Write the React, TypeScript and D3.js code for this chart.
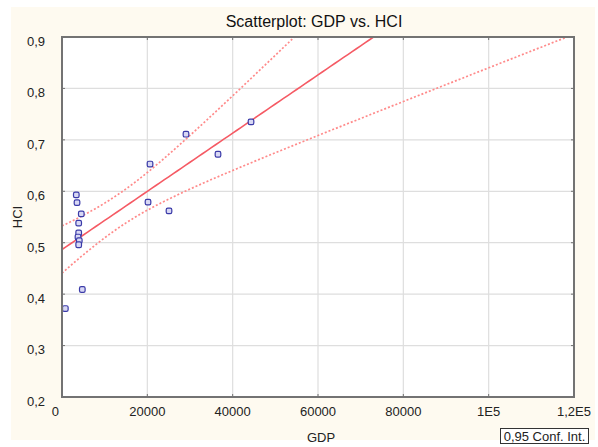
import React, { useRef, useEffect } from "react";
import * as d3 from "d3";

const gdp = [780, 4760, 3350, 3520, 4520, 3910, 3910, 3750, 4050, 3910, 20160, 20630, 25080, 29060, 36560, 44300];
const hci = [0.372, 0.409, 0.593, 0.578, 0.556, 0.538, 0.519, 0.511, 0.504, 0.496, 0.579, 0.653, 0.562, 0.711, 0.672, 0.735];

const xTicks = [0, 20000, 40000, 60000, 80000, 100000, 120000];
const xTickLabels = ["0", "20000", "40000", "60000", "80000", "1E5", "1,2E5"];
const yTicks = [0.2, 0.3, 0.4, 0.5, 0.6, 0.7, 0.8, 0.9];

const App = () => {
  const svgRef = useRef<SVGSVGElement>(null);

  useEffect(() => {
    const width = 598,
      height = 447;
    const margin = { top: 37, right: 24, bottom: 50, left: 62 };
    const innerW = width - margin.left - margin.right;
    const innerH = height - margin.top - margin.bottom;

    const root = d3.select(svgRef.current);
    root.selectAll("*").remove();
    root.attr("width", width).attr("height", height).style("font-family", "'Liberation Sans', Arial, sans-serif");

    // cream panel background
    root.append("rect").attr("x", 11).attr("y", 7).attr("width", 584).attr("height", 433).attr("fill", "#fefaf0");

    const x = d3.scaleLinear().domain([0, 120000]).range([0, innerW]);
    const y = d3.scaleLinear().domain([0.2, 0.9]).range([innerH, 0]);

    const svg = root.append("g").attr("transform", `translate(${margin.left},${margin.top})`);

    svg.append("rect").attr("width", innerW).attr("height", innerH).attr("fill", "#ffffff");

    // grid
    svg
      .selectAll(".vgrid")
      .data(xTicks.slice(1, -1))
      .enter()
      .append("line")
      .attr("x1", (d) => x(d))
      .attr("x2", (d) => x(d))
      .attr("y1", 0)
      .attr("y2", innerH)
      .attr("stroke", "#dedede")
      .attr("stroke-width", 1.2);
    svg
      .selectAll(".hgrid")
      .data(yTicks.slice(1, -1))
      .enter()
      .append("line")
      .attr("x1", 0)
      .attr("x2", innerW)
      .attr("y1", (d) => y(d))
      .attr("y2", (d) => y(d))
      .attr("stroke", "#dedede")
      .attr("stroke-width", 1.2);

    // linear regression with 95% confidence band
    const n = gdp.length;
    const mx = d3.mean(gdp)!;
    const my = d3.mean(hci)!;
    let sxx = 0,
      sxy = 0;
    gdp.forEach((v, i) => {
      sxx += (v - mx) * (v - mx);
      sxy += (v - mx) * (hci[i] - my);
    });
    const b = sxy / sxx;
    const a = my - b * mx;
    let sse = 0;
    gdp.forEach((v, i) => {
      const r = hci[i] - (a + b * v);
      sse += r * r;
    });
    const s = Math.sqrt(sse / (n - 2));
    const t = 2.1448;

    const xs = d3.range(0, 120001, 1000);
    const fit = (v: number) => a + b * v;
    const half = (v: number) => t * s * Math.sqrt(1 / n + ((v - mx) * (v - mx)) / sxx);

    svg.append("clipPath").attr("id", "plotclip").append("rect").attr("width", innerW).attr("height", innerH);

    const line = d3
      .line<number>()
      .x((d) => x(d))
      .y((d) => y(d));
    const lines = svg.append("g").attr("clip-path", "url(#plotclip)");

    lines
      .append("path")
      .attr("d", line.y((d) => y(fit(d) + half(d)))(xs))
      .attr("fill", "none")
      .attr("stroke", "#ff8a8a")
      .attr("stroke-width", 1.7)
      .attr("stroke-dasharray", "2,2");
    lines
      .append("path")
      .attr("d", line.y((d) => y(fit(d) - half(d)))(xs))
      .attr("fill", "none")
      .attr("stroke", "#ff8a8a")
      .attr("stroke-width", 1.7)
      .attr("stroke-dasharray", "2,2");
    lines
      .append("path")
      .attr("d", line.y((d) => y(fit(d)))(xs))
      .attr("fill", "none")
      .attr("stroke", "#f55a64")
      .attr("stroke-width", 1.6);

    // points
    svg
      .selectAll(".pt")
      .data(gdp)
      .enter()
      .append("rect")
      .attr("x", (d) => x(d) - 2.8)
      .attr("y", (d, i) => y(hci[i]) - 2.8)
      .attr("width", 5.6)
      .attr("height", 5.6)
      .attr("rx", 1.6)
      .attr("fill", "#d8d8f4")
      .attr("stroke", "#3a3aa8")
      .attr("stroke-width", 1.2);

    // frame
    svg
      .append("rect")
      .attr("width", innerW)
      .attr("height", innerH)
      .attr("fill", "none")
      .attr("stroke", "#737373")
      .attr("stroke-width", 2);

    // tick marks
    svg
      .selectAll(".xt")
      .data(xTicks)
      .enter()
      .append("line")
      .attr("x1", (d) => x(d))
      .attr("x2", (d) => x(d))
      .attr("y1", innerH - 3)
      .attr("y2", innerH)
      .attr("stroke", "#737373");
    svg
      .selectAll(".xt2")
      .data(xTicks)
      .enter()
      .append("line")
      .attr("x1", (d) => x(d))
      .attr("x2", (d) => x(d))
      .attr("y1", 0)
      .attr("y2", 3)
      .attr("stroke", "#737373");
    svg
      .selectAll(".yt")
      .data(yTicks)
      .enter()
      .append("line")
      .attr("x1", 0)
      .attr("x2", 3)
      .attr("y1", (d) => y(d))
      .attr("y2", (d) => y(d))
      .attr("stroke", "#737373");
    svg
      .selectAll(".yt2")
      .data(yTicks)
      .enter()
      .append("line")
      .attr("x1", innerW - 3)
      .attr("x2", innerW)
      .attr("y1", (d) => y(d))
      .attr("y2", (d) => y(d))
      .attr("stroke", "#737373");

    // tick labels
    svg
      .selectAll(".xl")
      .data(xTicks)
      .enter()
      .append("text")
      .attr("x", (d) => x(d))
      .attr("y", innerH + 19)
      .attr("text-anchor", (d, i) => (i === 0 ? "end" : "middle"))
      .attr("dx", (d, i) => (i === 0 ? -3 : 0))
      .attr("font-size", 13)
      .attr("fill", "#222")
      .text((d, i) => xTickLabels[i]);
    svg
      .selectAll(".yl")
      .data(yTicks)
      .enter()
      .append("text")
      .attr("x", -17)
      .attr("y", (d) => y(d))
      .attr("dy", "0.68em")
      .attr("text-anchor", "end")
      .attr("font-size", 13)
      .attr("fill", "#222")
      .text((d) => d3.format(".1f")(d).replace(".", ","));

    // titles
    root
      .append("text")
      .attr("x", 314)
      .attr("y", 27)
      .attr("text-anchor", "middle")
      .attr("font-size", 16)
      .attr("fill", "#111")
      .text("Scatterplot: GDP vs. HCI");
    root
      .append("text")
      .attr("x", 321)
      .attr("y", 442)
      .attr("text-anchor", "middle")
      .attr("font-size", 13)
      .attr("fill", "#222")
      .text("GDP");
    root
      .append("text")
      .attr("transform", "translate(22,217) rotate(-90)")
      .attr("text-anchor", "middle")
      .attr("font-size", 13)
      .attr("fill", "#222")
      .text("HCI");

    // legend box
    root
      .append("rect")
      .attr("x", 500.5)
      .attr("y", 428.5)
      .attr("width", 88)
      .attr("height", 15)
      .attr("fill", "#ffffff")
      .attr("stroke", "#333")
      .attr("stroke-width", 1);
    root
      .append("text")
      .attr("x", 544.5)
      .attr("y", 441)
      .attr("text-anchor", "middle")
      .attr("font-size", 13)
      .attr("fill", "#222")
      .text("0,95 Conf. Int.");
  }, []);

  return <svg ref={svgRef} style={{ position: "absolute", left: 0, top: 0, display: "block" }}></svg>;
};

export default App;
